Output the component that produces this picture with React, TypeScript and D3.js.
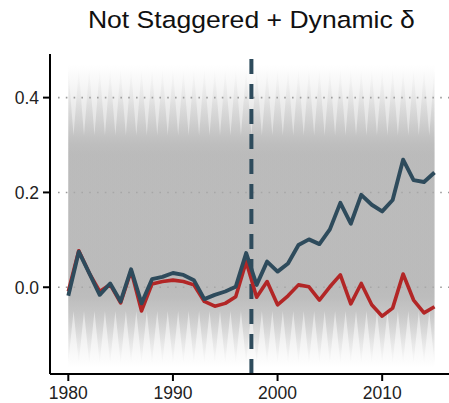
import React from "react";
import * as d3 from "d3";

const years = [1980,1981,1982,1983,1984,1985,1986,1987,1988,1989,1990,1991,1992,1993,1994,1995,1996,1997,1998,1999,2000,2001,2002,2003,2004,2005,2006,2007,2008,2009,2010,2011,2012,2013,2014,2015];
const treated = [-0.018,0.075,0.03,-0.016,0.008,-0.03,0.038,-0.034,0.017,0.022,0.03,0.026,0.015,-0.025,-0.016,-0.009,0.001,0.072,0.005,0.054,0.033,0.05,0.089,0.101,0.091,0.122,0.178,0.134,0.195,0.174,0.16,0.184,0.269,0.226,0.222,0.242];
const control = [-0.009,0.077,0.03,-0.009,0.006,-0.033,0.035,-0.05,0.007,0.012,0.015,0.012,0.005,-0.03,-0.04,-0.034,-0.02,0.054,-0.021,0.012,-0.037,-0.018,0.005,0.001,-0.027,0.001,0.026,-0.035,0.008,-0.037,-0.061,-0.044,0.028,-0.027,-0.054,-0.041];
// placebo envelope: extremes at each year, and inner level between years
const bandPeakHigh = [0.46,0.46,0.46,0.46,0.46,0.46,0.46,0.46,0.46,0.46,0.46,0.46,0.46,0.46,0.46,0.46,0.46,0.46,0.46,0.46,0.46,0.46,0.46,0.46,0.46,0.46,0.46,0.46,0.46,0.46,0.46,0.46,0.46,0.46,0.46,0.46];
const bandPeakLow = [-0.16,-0.16,-0.16,-0.16,-0.16,-0.16,-0.16,-0.16,-0.16,-0.16,-0.16,-0.16,-0.16,-0.16,-0.16,-0.16,-0.16,-0.16,-0.16,-0.16,-0.16,-0.16,-0.16,-0.16,-0.16,-0.16,-0.16,-0.16,-0.16,-0.16,-0.16,-0.16,-0.16,-0.16,-0.16,-0.16];
const bandValleyHigh = 0.32;
const bandValleyLow = -0.05;
const treatYear = 1997.5;
const yTicks = [0.0, 0.2, 0.4];
const xTicks = [1980, 1990, 2000, 2010];
const title = "Not Staggered + Dynamic δ";

const W = 449, H = 403;
const left = 50, right = 452.8, top = 54, bottom = 374;

export default function App() {
  const x = d3.scaleLinear().domain([1978.25, 2016.75]).range([left, right]);
  const y = d3.scaleLinear().domain([-0.183, 0.492]).range([bottom, top]);

  const topPts: [number, number][] = [];
  years.forEach((yr, i) => {
    topPts.push([x(yr), y(bandPeakHigh[i])]);
    if (i < years.length - 1) topPts.push([x(yr + 0.5), y(bandValleyHigh)]);
  });
  const botPts: [number, number][] = [];
  years.forEach((yr, i) => {
    botPts.push([x(yr), y(bandPeakLow[i])]);
    if (i < years.length - 1) botPts.push([x(yr + 0.5), y(bandValleyLow)]);
  });
  const bandPath = "M" + topPts.map(p => p.join(",")).join("L") + "L" + botPts.slice().reverse().map(p => p.join(",")).join("L") + "Z";

  const line = d3.line<number>().x((_, i) => x(years[i])).y(d => y(d));

  const stops: [number, number][] = [
    [0.47, 0], [0.44, 0.1], [0.40, 0.25], [0.35, 0.55], [0.31, 0.85], [0.28, 1],
    [-0.02, 1], [-0.05, 0.8], [-0.10, 0.42], [-0.14, 0.15], [-0.17, 0],
  ];
  const softStops: [number, number][] = [
    [0.47, 0], [0.42, 0.12], [0.36, 0.3], [0.30, 0.5], [0.0, 0.5], [-0.06, 0.35], [-0.12, 0.12], [-0.17, 0],
  ];
  const g0 = y(0.47), g1 = y(-0.17);

  return (
    <div style={{ position: "fixed", left: 0, top: 0 }}>
      <svg width={W} height={H} style={{ display: "block", background: "#fff" }} fontFamily="Liberation Sans, Arial, sans-serif">
        <defs>
          <linearGradient id="bandGrad" gradientUnits="userSpaceOnUse" x1="0" x2="0" y1={g0} y2={g1}>
            {stops.map(([v, o], i) => (
              <stop key={i} offset={(y(v) - g0) / (g1 - g0)} stopColor="#aaaaaa" stopOpacity={o * 0.6} />
            ))}
          </linearGradient>
          <linearGradient id="softGrad" gradientUnits="userSpaceOnUse" x1="0" x2="0" y1={g0} y2={g1}>
            {softStops.map(([v, o], i) => (
              <stop key={i} offset={(y(v) - g0) / (g1 - g0)} stopColor="#aaaaaa" stopOpacity={o} />
            ))}
          </linearGradient>
        </defs>
        {yTicks.map(t => (
          <line key={t} x1={left + 8} x2={right} y1={y(t)} y2={y(t)} stroke="#9a9a9a" strokeWidth={1.6} strokeDasharray="1.6,6.2" />
        ))}
        <rect x={x(years[0])} width={x(years[years.length - 1]) - x(years[0])} y={y(0.47)} height={y(-0.17) - y(0.47)} fill="url(#softGrad)" />
        <path d={bandPath} fill="url(#bandGrad)" />
        <line x1={x(treatYear)} x2={x(treatYear)} y1={bottom} y2={top} stroke="#2e4b5c" strokeWidth={4} strokeDasharray="15,10" />
        <path d={line(control) || ""} fill="none" stroke="#b22626" strokeWidth={3.6} strokeLinejoin="round" />
        <path d={line(treated) || ""} fill="none" stroke="#2e4b5c" strokeWidth={3.9} strokeLinejoin="round" />
        <line x1={left} x2={left} y1={top} y2={bottom} stroke="#000" strokeWidth={2} />
        <line x1={left} x2={W + 5} y1={bottom} y2={bottom} stroke="#000" strokeWidth={2} />
        {yTicks.map(t => (
          <g key={t}>
            <line x1={left - 7} x2={left} y1={y(t)} y2={y(t)} stroke="#000" strokeWidth={2} />
            <text x={left - 11} y={y(t)} dy="0.36em" textAnchor="end" fontSize={17.5} fill="#222">{d3.format(".1f")(t)}</text>
          </g>
        ))}
        {xTicks.map(t => (
          <g key={t}>
            <line x1={x(t)} x2={x(t)} y1={bottom} y2={bottom + 7} stroke="#000" strokeWidth={2} />
            <text x={x(t)} y={bottom + 25} textAnchor="middle" fontSize={17.5} fill="#222">{t}</text>
          </g>
        ))}
        <text x={(left + right) / 2} y={28} textAnchor="middle" fontSize={24.5} textLength={327} lengthAdjust="spacingAndGlyphs" fill="#111">{title}</text>
      </svg>
    </div>
  );
}
